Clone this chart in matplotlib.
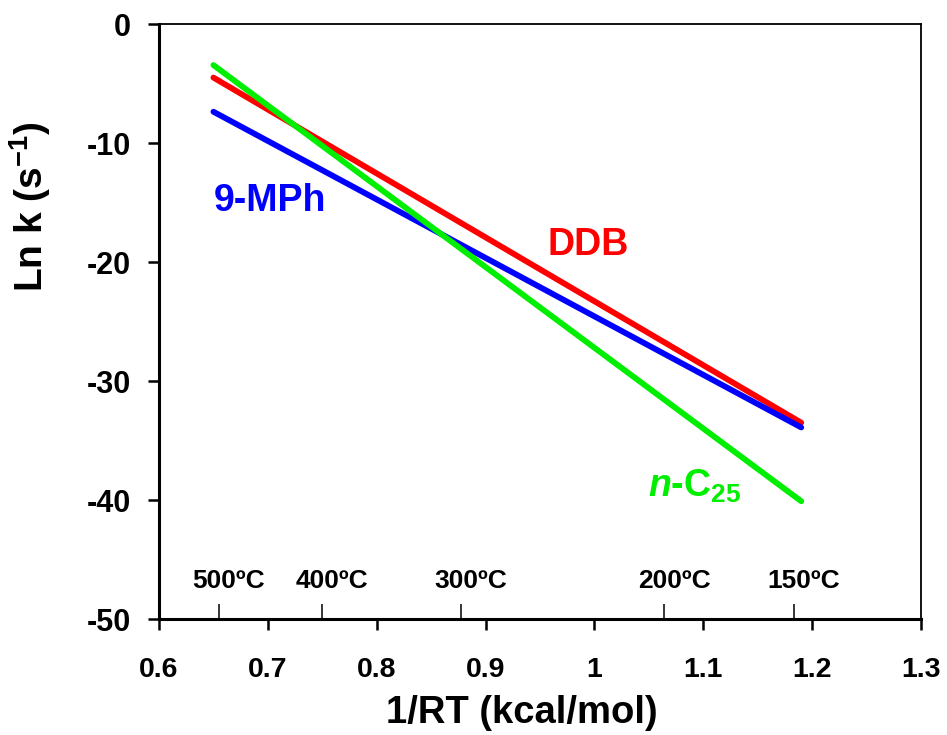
import numpy as np
import matplotlib as mpl
mpl.use('Agg')
import matplotlib.pyplot as plt
import matplotlib.transforms as mtransforms

plt.rcParams['font.family'] = ['Liberation Sans', 'DejaVu Sans']
plt.rcParams['font.weight'] = 'bold'
plt.rcParams['axes.unicode_minus'] = False
plt.rcParams['mathtext.fontset'] = 'custom'
plt.rcParams['mathtext.rm'] = 'Liberation Sans:bold'
plt.rcParams['mathtext.it'] = 'Liberation Sans:italic:bold'
plt.rcParams['mathtext.default'] = 'rm'

# line end points (1/RT, ln k)
inv_rt = [0.65, 1.19]
lnk_ddb = [-4.5, -33.5]
lnk_mph = [-7.37, -33.9]
lnk_c25 = [-3.45, -40.1]

# temperature marks along the bottom axis
temp_labels = ['500ºC', '400ºC', '300ºC', '200ºC', '150ºC']
temp_pos = [0.655, 0.75, 0.877, 1.064, 1.183]

xticks = [0.6, 0.7, 0.8, 0.9, 1.0, 1.1, 1.2, 1.3]
xticklabels = ['0.6', '0.7', '0.8', '0.9', '1', '1.1', '1.2', '1.3']
yticks = [0, -10, -20, -30, -40, -50]

fig = plt.figure(figsize=(9.47, 7.35), dpi=100)
ax = fig.add_axes([0.1679, 0.1578, 0.8046, 0.8095])

ax.plot(inv_rt, lnk_ddb, color='#ff0000', lw=4.2, solid_capstyle='round')
ax.plot(inv_rt, lnk_mph, color='#0000ff', lw=4.2, solid_capstyle='round')
ax.plot(inv_rt, lnk_c25, color='#00ee00', lw=4.2, solid_capstyle='round')

ax.set_xlim(0.6, 1.3)
ax.set_ylim(-50, 0)
ax.set_xticks(xticks)
ax.set_xticklabels(xticklabels)
ax.set_yticks(yticks)
ax.tick_params(axis='both', direction='out', length=8, width=1.8)
ax.tick_params(axis='x', pad=19, labelsize=20.5)
ax.tick_params(axis='y', pad=12, labelsize=22)
for s in ['left', 'bottom']:
    ax.spines[s].set_linewidth(2.2)
for s in ['top', 'right']:
    ax.spines[s].set_linewidth(1.3)

# temperature ticks pointing into the plot
ax2 = ax.twiny()
ax2.set_xlim(ax.get_xlim())
ax2.xaxis.set_ticks_position('bottom')
ax2.set_xticks(temp_pos)
ax2.set_xticklabels([])
ax2.tick_params(axis='x', direction='in', length=11, width=1.1)
for s in ax2.spines.values():
    s.set_visible(False)

shift = mtransforms.ScaledTranslation(10 / 100, 0, fig.dpi_scale_trans)
trans = ax.get_xaxis_transform() + shift
for p, lab in zip(temp_pos, temp_labels):
    ax.text(p, 0.052, lab, transform=trans, ha='center', va='baseline',
            fontsize=19, fontweight='bold')

ax.text(0.702, -14.9, '9-MPh', color='#0000ff', fontsize=27,
        fontweight='bold', ha='center', va='center')
ax.text(0.994, -18.57, 'DDB', color='#ff0000', fontsize=27,
        fontweight='bold', ha='center', va='center')
ax.text(1.049, -39.75, r'$\mathit{n}$-C$_{25}$', color='#00ee00', fontsize=27,
        fontweight='bold', ha='left', va='baseline')

fig.text(522 / 947, 1 - 723 / 735, '1/RT (kcal/mol)', ha='center',
         va='baseline', fontsize=27.5, fontweight='bold')
fig.text(30 / 947, 1 - 207 / 735, r'Ln k (s$^{-1}$)', rotation=90,
         ha='center', va='center', fontsize=28, fontweight='bold')

fig.savefig('out.png', dpi=100)
